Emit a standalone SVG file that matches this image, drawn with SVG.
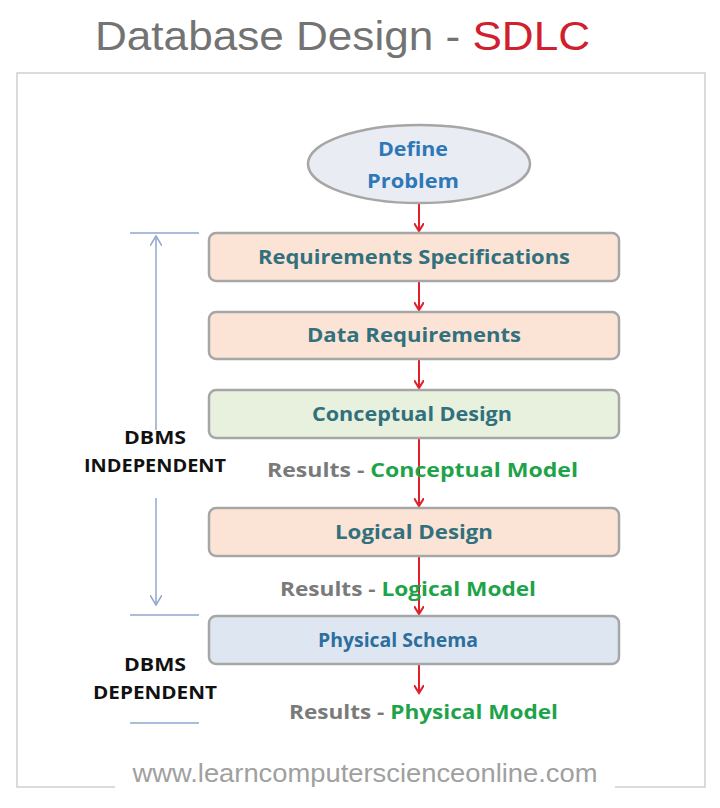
<svg xmlns="http://www.w3.org/2000/svg" width="720" height="808" viewBox="0 0 720 808">
<defs>
<marker id="ra" markerWidth="10" markerHeight="10" refX="8" refY="5" orient="auto" markerUnits="userSpaceOnUse"><path d="M0,0 L8,5 L0,10" fill="none" stroke="#e0202a" stroke-width="2"/></marker>
<marker id="ba" markerWidth="12" markerHeight="12" refX="10" refY="6" orient="auto" markerUnits="userSpaceOnUse"><path d="M0,0 L10,6 L0,12" fill="none" stroke="#8fa8cc" stroke-width="1.5"/></marker>
</defs>
<style>
.box{stroke:#a6a6a6;stroke-width:2.5}
.t{font-family:"Open Sans","Noto Sans",sans-serif;font-weight:bold;font-size:20px;text-anchor:middle;fill:#31707c}
.side{font-family:"Open Sans","Noto Sans",sans-serif;font-weight:bold;font-size:17px;text-anchor:middle;fill:#111}
.res{font-family:"Open Sans","Noto Sans",sans-serif;font-weight:bold;font-size:20px}
.g{fill:#7a7a7a}.gr{fill:#1ea34a}
.rl{stroke:#e0202a;stroke-width:2;marker-end:url(#ra)}
.bl{stroke:#8fa8cc;stroke-width:1.5}
</style>
<rect width="720" height="808" fill="#fff"/>
<text x="95" y="50" font-family="Liberation Sans,Arial,sans-serif" font-size="40" fill="#737373" textLength="495" lengthAdjust="spacingAndGlyphs">Database Design - <tspan fill="#d0202e">SDLC</tspan></text>
<path d="M115,787 H17 V73 H705 V787 H615" fill="none" stroke="#d0d0d0" stroke-width="1.5"/>
<text x="365" y="782" font-family="Liberation Sans,Arial,sans-serif" font-size="25" fill="#a0a0a0" text-anchor="middle" textLength="465" lengthAdjust="spacingAndGlyphs">www.learncomputerscienceonline.com</text>
<g id="connectors">
<line class="rl" x1="419" y1="203" x2="419" y2="231"/>
<line class="rl" x1="419" y1="282" x2="419" y2="310"/>
<line class="rl" x1="419" y1="360" x2="419" y2="388"/>
<line class="rl" x1="419" y1="439" x2="419" y2="506"/>
<line class="rl" x1="419" y1="557" x2="419" y2="614"/>
<line class="rl" x1="419" y1="665" x2="419" y2="693"/>
<line class="bl" x1="130" y1="233" x2="199" y2="233"/>
<line class="bl" x1="130" y1="615" x2="199" y2="615"/>
<line class="bl" x1="130" y1="723" x2="199" y2="723"/>
<line class="bl" x1="156" y1="430" x2="156" y2="236" marker-end="url(#ba)"/>
<line class="bl" x1="156" y1="498" x2="156" y2="605" marker-end="url(#ba)"/>
</g>
<g id="define"><ellipse cx="419" cy="164" rx="111" ry="39" fill="#e9ecf2" stroke="#a6a6a6" stroke-width="2.5"/>
<text class="t" x="413" y="156" style="fill:#2e78b8" textLength="70" lengthAdjust="spacingAndGlyphs">Define</text><text class="t" x="413" y="188" style="fill:#2e78b8" textLength="92" lengthAdjust="spacingAndGlyphs">Problem</text></g>
<g id="req"><rect class="box" x="209" y="233" width="410" height="48" rx="7" fill="#fbe4d6"/><text class="t" x="414" y="264" textLength="312" lengthAdjust="spacingAndGlyphs">Requirements  Specifications</text></g>
<g id="data"><rect class="box" x="209" y="312" width="410" height="47" rx="7" fill="#fbe4d6"/><text class="t" x="414" y="342" textLength="214" lengthAdjust="spacingAndGlyphs">Data  Requirements</text></g>
<g id="concept"><rect class="box" x="209" y="390" width="410" height="48" rx="7" fill="#e8f0de"/><text class="t" x="412" y="421" textLength="200" lengthAdjust="spacingAndGlyphs">Conceptual  Design</text></g>
<text class="res" x="267" y="477" textLength="311" lengthAdjust="spacingAndGlyphs"><tspan class="g">Results - </tspan><tspan class="gr">Conceptual   Model</tspan></text>
<g id="logical"><rect class="box" x="209" y="508" width="410" height="48" rx="7" fill="#fbe4d6"/><text class="t" x="414" y="539" textLength="158" lengthAdjust="spacingAndGlyphs">Logical  Design</text></g>
<text class="res" x="280" y="596" textLength="256" lengthAdjust="spacingAndGlyphs"><tspan class="g">Results - </tspan><tspan class="gr">Logical  Model</tspan></text>
<g id="physical"><rect class="box" x="209" y="616" width="410" height="48" rx="7" fill="#dde6f1"/><text class="t" x="398" y="647" textLength="160" lengthAdjust="spacingAndGlyphs" style="fill:#2e6e9c">Physical   Schema</text></g>
<text class="res" x="289" y="719" textLength="269" lengthAdjust="spacingAndGlyphs"><tspan class="g">Results - </tspan><tspan class="gr">Physical  Model</tspan></text>
<g id="indep"><text class="side" x="155" y="444" textLength="62" lengthAdjust="spacingAndGlyphs">DBMS</text><text class="side" x="155" y="472" textLength="142" lengthAdjust="spacingAndGlyphs">INDEPENDENT</text></g>
<g id="dep"><text class="side" x="155" y="671" textLength="62" lengthAdjust="spacingAndGlyphs">DBMS</text><text class="side" x="155" y="699" textLength="124" lengthAdjust="spacingAndGlyphs">DEPENDENT</text></g>
</svg>
